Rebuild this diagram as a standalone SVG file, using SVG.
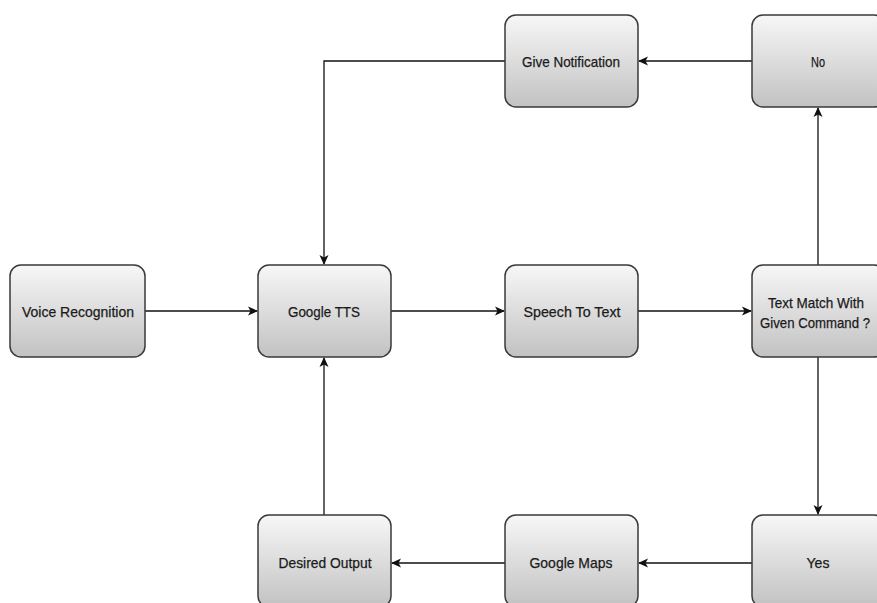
<svg xmlns="http://www.w3.org/2000/svg" width="877" height="603" viewBox="0 0 877 603">
<defs>
<linearGradient id="g" x1="0" y1="0" x2="0" y2="1">
<stop offset="0" stop-color="#f7f7f7"/>
<stop offset="1" stop-color="#c2c2c2"/>
</linearGradient>
<marker id="a" markerWidth="10" markerHeight="10" refX="9" refY="5" orient="auto" markerUnits="userSpaceOnUse">
<path d="M0,0.5 L10,5 L0,9.5 L2.5,5 Z" fill="#111"/>
</marker>
<style>
.box{fill:url(#g);stroke:#3a3a3a;stroke-width:1.5}
.t{font-family:"Liberation Sans Narrow","Liberation Sans",Arial,sans-serif;font-size:15px;fill:#1a1a1a;text-anchor:middle;stroke:#1a1a1a;stroke-width:0.25}
.c{fill:none;stroke:#111;stroke-width:1.3;marker-end:url(#a)}
</style>
</defs>
<rect width="877" height="603" fill="#fff"/>
<g id="connectors">
<path class="c" d="M145,311 H257"/>
<path class="c" d="M391,311 H504"/>
<path class="c" d="M638,311 H751"/>
<path class="c" d="M818,265 V108"/>
<path class="c" d="M752,61 H639"/>
<path class="c" d="M505,61 H324 V264"/>
<path class="c" d="M818,357 V514"/>
<path class="c" d="M752,563 H639"/>
<path class="c" d="M505,563 H392"/>
<path class="c" d="M324,515 V358"/>
</g>
<g id="voice-recognition"><rect class="box" x="10" y="265" width="135" height="92" rx="11"/><text class="t" x="78" y="317" textLength="112" lengthAdjust="spacingAndGlyphs">Voice Recognition</text></g>
<g id="google-tts"><rect class="box" x="258" y="265" width="133" height="92" rx="11"/><text class="t" x="324" y="317" textLength="72" lengthAdjust="spacingAndGlyphs">Google TTS</text></g>
<g id="speech-to-text"><rect class="box" x="505" y="265" width="133" height="92" rx="11"/><text class="t" x="572" y="317" textLength="97" lengthAdjust="spacingAndGlyphs">Speech To Text</text></g>
<g id="text-match"><rect class="box" x="752" y="265" width="133" height="92" rx="11"/><text class="t" x="816" y="308" textLength="96" lengthAdjust="spacingAndGlyphs">Text Match With</text><text class="t" x="815" y="328" textLength="110" lengthAdjust="spacingAndGlyphs">Given Command ?</text></g>
<g id="give-notification"><rect class="box" x="505" y="15" width="133" height="92" rx="11"/><text class="t" x="571" y="67" textLength="98" lengthAdjust="spacingAndGlyphs">Give Notification</text></g>
<g id="no"><rect class="box" x="752" y="15" width="133" height="92" rx="11"/><text class="t" x="818" y="67" textLength="14" lengthAdjust="spacingAndGlyphs">No</text></g>
<g id="yes"><rect class="box" x="752" y="515" width="133" height="92" rx="11"/><text class="t" x="818" y="568" textLength="23" lengthAdjust="spacingAndGlyphs">Yes</text></g>
<g id="google-maps"><rect class="box" x="505" y="515" width="133" height="92" rx="11"/><text class="t" x="571" y="568" textLength="83" lengthAdjust="spacingAndGlyphs">Google Maps</text></g>
<g id="desired-output"><rect class="box" x="258" y="515" width="133" height="92" rx="11"/><text class="t" x="325" y="568" textLength="93" lengthAdjust="spacingAndGlyphs">Desired Output</text></g>
</svg>
